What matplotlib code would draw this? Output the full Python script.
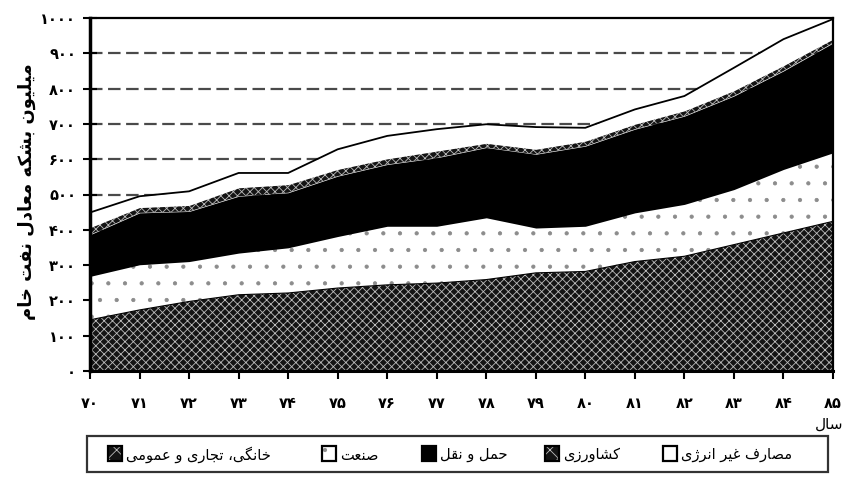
import matplotlib
matplotlib.use("Agg")
import matplotlib.pyplot as plt
from matplotlib.patches import Rectangle
import numpy as np

# ---------------- data ----------------
years = [70, 71, 72, 73, 74, 75, 76, 77, 78, 79, 80, 81, 82, 83, 84, 85]
residential = [145, 173, 197, 216, 221, 235, 244, 249, 259, 278, 282, 310, 325, 358, 391, 424]
industry    = [123, 128, 113, 118, 128, 146, 166, 161, 175, 127, 128, 138, 147, 156, 180, 194]
transport   = [118, 147, 142, 161, 156, 171, 175, 194, 199, 209, 227, 237, 250, 265, 279, 311]
agriculture = [20, 15, 17, 24, 23, 19, 16, 19, 12, 14, 14, 14, 15, 15, 15, 11]
non_energy  = [43, 32, 40, 42, 33, 57, 65, 62, 54, 63, 38, 42, 42, 65, 75, 57]
y_ticks = [0, 100, 200, 300, 400, 500, 600, 700, 800, 900, 1000]

labels = {
    "residential": "خانگی، تجاری و عمومی",
    "industry": "صنعت",
    "transport": "حمل و نقل",
    "agriculture": "کشاورزی",
    "non_energy": "مصارف غیر انرژی",
}
y_label = "میلیون بشکه معادل نفت خام"
x_label = "سال"

# ------------- minimal Persian shaping (matplotlib has no shaping) -------------
FORMS = {
    'ا': (0xFE8D, 0xFE8E), 'د': (0xFEA9, 0xFEAA), 'ر': (0xFEAD, 0xFEAE),
    'ز': (0xFEAF, 0xFEB0), 'و': (0xFEED, 0xFEEE), 'ژ': (0xFB8A, 0xFB8B),
    'ب': (0xFE8F, 0xFE90, 0xFE91, 0xFE92), 'ت': (0xFE95, 0xFE96, 0xFE97, 0xFE98),
    'ج': (0xFE9D, 0xFE9E, 0xFE9F, 0xFEA0), 'ح': (0xFEA1, 0xFEA2, 0xFEA3, 0xFEA4),
    'خ': (0xFEA5, 0xFEA6, 0xFEA7, 0xFEA8), 'س': (0xFEB1, 0xFEB2, 0xFEB3, 0xFEB4),
    'ش': (0xFEB5, 0xFEB6, 0xFEB7, 0xFEB8), 'ص': (0xFEB9, 0xFEBA, 0xFEBB, 0xFEBC),
    'ع': (0xFEC9, 0xFECA, 0xFECB, 0xFECC), 'غ': (0xFECD, 0xFECE, 0xFECF, 0xFED0),
    'ف': (0xFED1, 0xFED2, 0xFED3, 0xFED4), 'ق': (0xFED5, 0xFED6, 0xFED7, 0xFED8),
    'ل': (0xFEDD, 0xFEDE, 0xFEDF, 0xFEE0), 'م': (0xFEE1, 0xFEE2, 0xFEE3, 0xFEE4),
    'ن': (0xFEE5, 0xFEE6, 0xFEE7, 0xFEE8), 'ه': (0xFEE9, 0xFEEA, 0xFEEB, 0xFEEC),
    'ی': (0xFBFC, 0xFBFD, 0xFBFE, 0xFBFF), 'ک': (0xFB8E, 0xFB8F, 0xFB90, 0xFB91),
    'گ': (0xFB92, 0xFB93, 0xFB94, 0xFB95),
}


def shape(s):
    out = []
    n = len(s)
    for i, c in enumerate(s):
        if c not in FORMS:
            out.append(c)
            continue
        f = FORMS[c]
        prev = s[i - 1] if i > 0 else None
        nxt = s[i + 1] if i + 1 < n else None
        jp = prev is not None and prev in FORMS and len(FORMS[prev]) == 4
        jn = nxt is not None and nxt in FORMS and len(f) == 4
        if jp and jn:
            cp = f[3]
        elif jp:
            cp = f[1]
        elif jn:
            cp = f[2]
        else:
            cp = f[0]
        out.append(chr(cp))
    return ''.join(out)[::-1]


def fa_digits(v):
    return str(v).translate(str.maketrans('0123456789', '۰۱۲۳۴۵۶۷۸۹'))


plt.rcParams['font.family'] = ['DejaVu Sans']
plt.rcParams['hatch.linewidth'] = 0.6
plt.rcParams['lines.scale_dashes'] = False

W, H = 849, 479
fig = plt.figure(figsize=(W / 100, H / 100), dpi=100)
ax = fig.add_axes([90 / W, 1 - 371 / H, (833 - 90) / W, (371 - 18) / H])

x = np.array(years)
layers = [residential, industry, transport, agriculture, non_energy]
cum = np.cumsum(np.array(layers, dtype=float), axis=0)
bottoms = np.vstack([np.zeros(len(years)), cum[:-1]])

styles = [
    dict(facecolor='#141414', hatch='xxxx', hcol='#bdbdbd'),
    dict(facecolor='white', hatch='.', hcol='#8c8c8c'),
    dict(facecolor='black', hatch=None, hcol='black'),
    dict(facecolor='#141414', hatch='xxxx', hcol='#bdbdbd'),
    dict(facecolor='white', hatch=None, hcol='white'),
]

# dashed gridlines behind areas
for yv in y_ticks[1:-1]:
    ax.axhline(yv, color='#4a4a4a', lw=1.6, dashes=(9, 4), zorder=0.5)

for i, st in enumerate(styles):
    ax.fill_between(x, bottoms[i], cum[i], facecolor=st['facecolor'],
                    hatch=st['hatch'], edgecolor=st['hcol'], linewidth=0,
                    zorder=2)
ax.plot(x, cum[0], color='black', lw=0.8, zorder=3)
ax.plot(x, cum[-1], color='black', lw=1.3, zorder=3)

ax.set_xlim(70, 85)
ax.set_ylim(0, 1000)
ax.set_xticks(years)
ax.set_xticklabels([fa_digits(v) for v in years], fontsize=10.5, fontweight='bold')
ax.set_yticks(y_ticks)
ax.set_yticklabels([fa_digits(v) for v in y_ticks], fontsize=10.5, fontweight='bold')
ax.tick_params(axis='y', direction='inout', length=10, width=1.5, pad=5)
ax.tick_params(axis='x', direction='out', length=6, width=1.5, pad=12)

ax.spines['left'].set_linewidth(2.5)
ax.spines['bottom'].set_linewidth(2.2)
ax.spines['top'].set_linewidth(1.6)
ax.spines['right'].set_linewidth(1.6)
for s in ax.spines.values():
    s.set_zorder(4)

fig.text(27 / W, 1 - 192 / H, shape(y_label), rotation=90, ha='center', va='center',
         fontsize=13, fontweight='bold')
fig.text(843 / W, 1 - 424 / H, shape(x_label), ha='right', va='center', fontsize=11)

# ---------------- legend (manual) ----------------
def fx(px):
    return px / W


def fy(py):
    return 1 - py / H


frame = Rectangle((fx(87), fy(472)), fx(828) - fx(87), fy(436) - fy(472),
                  transform=fig.transFigure, facecolor='white', edgecolor='#333333',
                  lw=1.6, zorder=5)
fig.patches.append(frame)

legend_items = [
    (108, 'residential', 0),
    (322, 'industry', 1),
    (422, 'transport', 2),
    (545, 'agriculture', 3),
    (663, 'non_energy', 4),
]
for bx, key, si in legend_items:
    st = styles[si]
    fc = st['facecolor']
    r = Rectangle((fx(bx), fy(461)), fx(14), 15 / H, transform=fig.transFigure,
                  facecolor=fc, hatch=st['hatch'] if st['hatch'] != 'xxxx' else 'xx',
                  edgecolor=st['hcol'], lw=0, zorder=6)
    fig.patches.append(r)
    r2 = Rectangle((fx(bx), fy(461)), fx(14), 15 / H, transform=fig.transFigure,
                   facecolor='none', edgecolor='black', lw=1.6, zorder=7)
    fig.patches.append(r2)
    fig.text(fx(bx + 18), fy(455), shape(labels[key]), ha='left', va='center',
             fontsize=10.5, zorder=8)

fig.savefig('out.png', dpi=100)
